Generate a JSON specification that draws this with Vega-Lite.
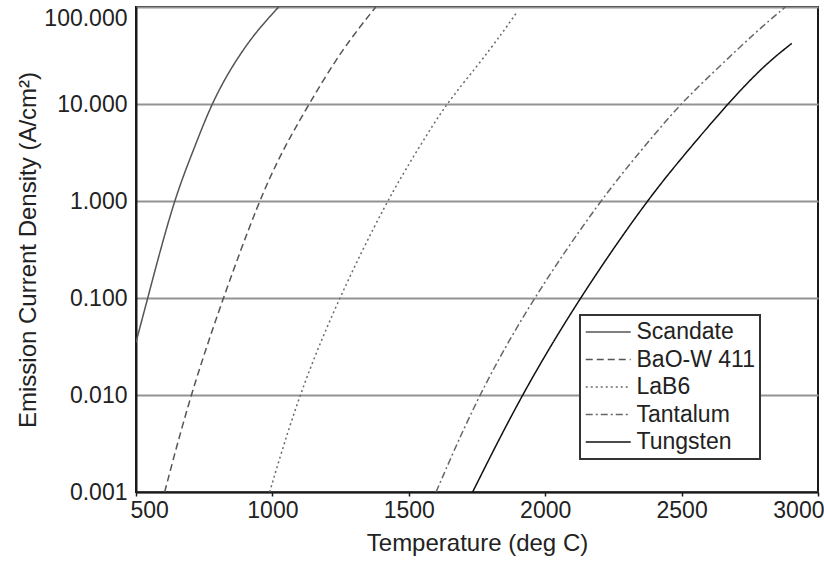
{
  "$schema": "https://vega.github.io/schema/vega-lite/v6.json",
  "autosize": "none",
  "width": 682,
  "height": 485,
  "padding": {"left": 136, "top": 7, "right": 6, "bottom": 80},
  "background": "white",
  "config": {
    "font": "Liberation Sans",
    "view": {"stroke": "#1a1a1a", "strokeWidth": 2},
    "axis": {"labelFont": "Liberation Sans", "titleFont": "Liberation Sans", "labelColor": "#222", "titleColor": "#222", "titleFontWeight": "normal", "domainColor": "#1a1a1a", "domainWidth": 2},
    "legend": {"strokeWidth": 2}
  },
  "data": {
    "values": [
      {"m": "Scandate", "t": 500, "j": 0.035},
      {"m": "Scandate", "t": 543, "j": 0.1},
      {"m": "Scandate", "t": 637, "j": 1},
      {"m": "Scandate", "t": 711, "j": 3.37},
      {"m": "Scandate", "t": 776, "j": 10},
      {"m": "Scandate", "t": 852, "j": 24.7},
      {"m": "Scandate", "t": 937, "j": 54.6},
      {"m": "Scandate", "t": 1023, "j": 100},
      {"m": "BaO-W 411", "t": 605, "j": 0.001},
      {"m": "BaO-W 411", "t": 699, "j": 0.01},
      {"m": "BaO-W 411", "t": 819, "j": 0.1},
      {"m": "BaO-W 411", "t": 950, "j": 1},
      {"m": "BaO-W 411", "t": 1038, "j": 3.37},
      {"m": "BaO-W 411", "t": 1134, "j": 10},
      {"m": "BaO-W 411", "t": 1256, "j": 37},
      {"m": "BaO-W 411", "t": 1379, "j": 100},
      {"m": "LaB6", "t": 990, "j": 0.001},
      {"m": "LaB6", "t": 1096, "j": 0.01},
      {"m": "LaB6", "t": 1243, "j": 0.1},
      {"m": "LaB6", "t": 1419, "j": 1},
      {"m": "LaB6", "t": 1532, "j": 3.37},
      {"m": "LaB6", "t": 1636, "j": 10},
      {"m": "LaB6", "t": 1752, "j": 24.7},
      {"m": "LaB6", "t": 1844, "j": 54.6},
      {"m": "LaB6", "t": 1897, "j": 89},
      {"m": "Tantalum", "t": 1600, "j": 0.001},
      {"m": "Tantalum", "t": 1754, "j": 0.01},
      {"m": "Tantalum", "t": 1955, "j": 0.1},
      {"m": "Tantalum", "t": 2200, "j": 1},
      {"m": "Tantalum", "t": 2353, "j": 3.37},
      {"m": "Tantalum", "t": 2494, "j": 10},
      {"m": "Tantalum", "t": 2641, "j": 24.7},
      {"m": "Tantalum", "t": 2770, "j": 54.6},
      {"m": "Tantalum", "t": 2880, "j": 100},
      {"m": "Tungsten", "t": 1734, "j": 0.001},
      {"m": "Tungsten", "t": 1912, "j": 0.01},
      {"m": "Tungsten", "t": 2125, "j": 0.1},
      {"m": "Tungsten", "t": 2370, "j": 1},
      {"m": "Tungsten", "t": 2525, "j": 3.37},
      {"m": "Tungsten", "t": 2668, "j": 10},
      {"m": "Tungsten", "t": 2800, "j": 24.7},
      {"m": "Tungsten", "t": 2904, "j": 42.2}
    ]
  },
  "mark": {"type": "line", "interpolate": "basis", "clip": true},
  "encoding": {
    "x": {
      "field": "t", "type": "quantitative",
      "scale": {"domain": [500, 3000], "nice": false, "zero": false},
      "axis": {"title": "Temperature (deg C)", "values": [500, 1000, 1500, 2000, 2500, 3000], "grid": false, "labelFontSize": 23, "titleFontSize": 24, "tickSize": 4, "tickColor": "#1a1a1a", "tickWidth": 1.5, "labelPadding": 3, "titlePadding": 9, "labelFlush": true, "labelFlushOffset": 6, "format": "d"}
    },
    "y": {
      "field": "j", "type": "quantitative",
      "scale": {"type": "log", "domain": [0.001, 100], "nice": false},
      "axis": {"title": "Emission Current Density (A/cm²)", "values": [0.001, 0.01, 0.1, 1, 10, 100], "format": ".3f", "grid": true, "gridColor": "#939393", "gridWidth": 2, "ticks": false, "labelFontSize": 23, "titleFontSize": 24, "labelPadding": 9, "titlePadding": 3, "labelFlush": false, "labelBaseline": {"condition": {"test": "datum.value >= 100", "value": "top"}, "value": "middle"}}
    },
    "color": {
      "field": "m", "type": "nominal", "title": null,
      "scale": {"domain": ["Scandate", "BaO-W 411", "LaB6", "Tantalum", "Tungsten"], "range": ["#555555", "#555555", "#6a6a6a", "#666666", "#111111"]},
      "legend": {"orient": "none", "legendX": 444, "legendY": 308, "symbolType": "M-1,0H3", "symbolSize": 506, "labelFontSize": 23, "labelColor": "#222", "strokeColor": "#333", "padding": 5, "rowPadding": 3.5, "labelOffset": 27.5, "fillColor": "white", "labelFont": "Liberation Sans"}
    },
    "strokeDash": {
      "field": "m", "type": "nominal", "title": null,
      "scale": {"domain": ["Scandate", "BaO-W 411", "LaB6", "Tantalum", "Tungsten"], "range": [[1, 0], [7, 4], [2, 3], [7, 3, 2, 3], [1, 0]]}
    },
    "strokeWidth": {
      "field": "m", "type": "nominal", "title": null,
      "scale": {"domain": ["Scandate", "BaO-W 411", "LaB6", "Tantalum", "Tungsten"], "range": [1.5, 1.5, 1.6, 1.5, 3]}
    }
  }
}
